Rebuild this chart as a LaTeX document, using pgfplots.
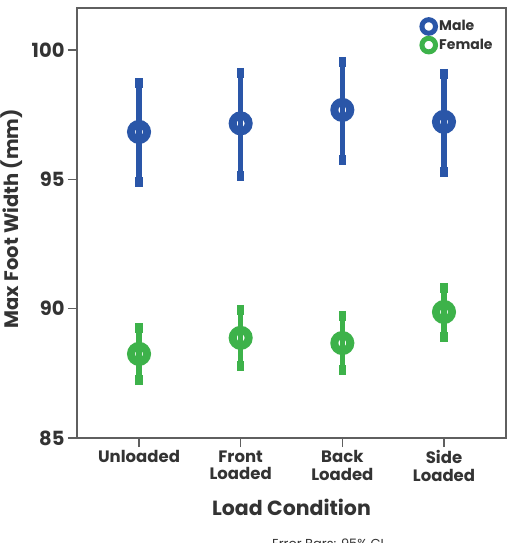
\documentclass[border=0pt]{standalone}
\usepackage{pgfplots}
\pgfplotsset{compat=1.18}
\usepackage{fontspec}
\setmainfont{Poppins}
\definecolor{maleblue}{RGB}{42,86,168}
\definecolor{femgreen}{RGB}{61,178,74}
\definecolor{txt}{RGB}{51,51,51}
\definecolor{axgray}{RGB}{95,95,95}

% mean and 95% CI bounds per load condition
\pgfplotstableread{
x  y      ep    em
0  96.83  1.89  1.93
1  97.16  1.95  2.03
2  97.68  1.86  1.93
3  97.22  1.85  1.94
}\maletab
\pgfplotstableread{
x  y      ep    em
0  88.25  1.00  1.01
1  88.87  1.08  1.08
2  88.67  1.05  1.04
3  89.87  0.93  0.96
}\femaletab

\begin{document}
\begin{tikzpicture}
\begin{axis}[
  at={(77pt,105pt)}, anchor=south west,
  scale only axis, width=429pt, height=430pt,
  xmin=-0.61, xmax=3.61, ymin=85, ymax=101.62,
  xtick={0,1,2,3},
  xticklabels={Unloaded, Front\\Loaded, Back\\Loaded, Side\\Loaded},
  ytick={85,90,95,100},
  tick pos=left, tick align=outside, major tick length=9pt,
  axis line style={axgray, line width=1.4pt},
  tick style={axgray, line width=1.4pt},
  /pgf/number format/assume math mode=true,
  xticklabel style={align=center, font=\bfseries\fontsize{16.5}{17.5}\selectfont, text=txt},
  yticklabel style={font=\bfseries\fontsize{19.5}{22}\selectfont, text=txt},
  xlabel={Load Condition},
  ylabel={Max Foot Width (mm)},
  xlabel style={font=\bfseries\fontsize{20.5}{24}\selectfont, text=txt,
    at={(axis description cs:0.5,-0.162)}, anchor=center},
  ylabel style={font=\bfseries\fontsize{19.5}{22}\selectfont, text=txt,
    at={(axis description cs:-0.1515,0.51)}, anchor=center},
  legend style={at={(1,1)}, anchor=north east, xshift=-12pt, yshift=-9pt,
    draw=none, fill=none, inner sep=0pt, row sep=0pt,
    font=\bfseries\fontsize{14}{16}\selectfont, text=txt,
    nodes={inner sep=1.2pt}},
  legend cell align=left,
  clip=false,
]
\addplot[maleblue, only marks, mark=o, mark size=8pt,
  mark options={line width=8pt},
  forget plot,
  error bars/.cd, y dir=both, y explicit,
  error bar style={line width=5.5pt, maleblue},
  error mark options={line width=7.5pt, mark size=5pt, maleblue}]
  table[x=x, y=y, y error plus=ep, y error minus=em] {\maletab};
\addplot[femgreen, only marks, mark=o, mark size=8pt,
  mark options={line width=8pt},
  forget plot,
  error bars/.cd, y dir=both, y explicit,
  error bar style={line width=5.5pt, femgreen},
  error mark options={line width=7.5pt, mark size=5pt, femgreen}]
  table[x=x, y=y, y error plus=ep, y error minus=em] {\femaletab};
\addlegendimage{legend image code/.code={\draw[maleblue, line width=5pt] (4pt,0pt) circle (6.8pt);}}
\addlegendentry{Male}
\addlegendimage{legend image code/.code={\draw[femgreen, line width=5pt] (4pt,0pt) circle (6.8pt);}}
\addlegendentry{Female}
\end{axis}
\node[anchor=north west, inner sep=0pt, text=txt, font=\fontsize{13}{15}\selectfont] at (272pt,4pt) {Error Bars: 95\% CI};
\pgfresetboundingbox
\useasboundingbox (0pt,0pt) rectangle (514pt,543pt);
\end{tikzpicture}
\end{document}
